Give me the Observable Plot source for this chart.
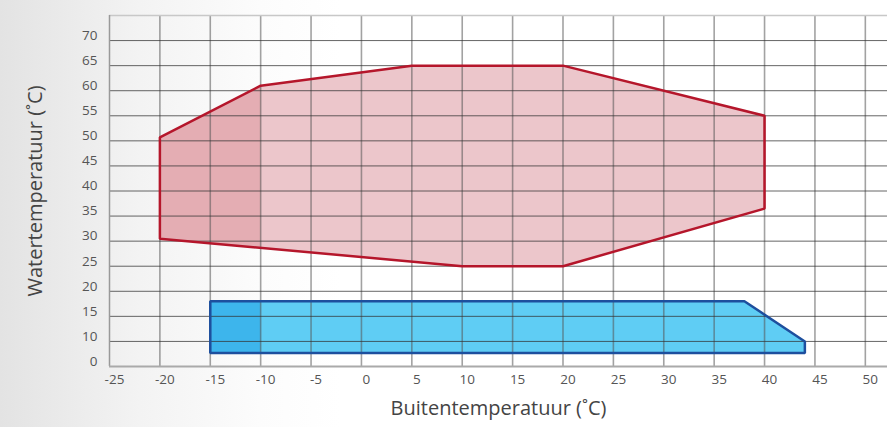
<!DOCTYPE html>
<html>
<head>
<meta charset="utf-8">
<script src="https://cdn.jsdelivr.net/npm/d3@7"></script>
<script src="https://cdn.jsdelivr.net/npm/@observablehq/plot@0.6"></script>
<style>
  html, body { margin: 0; padding: 0; }
  body {
    width: 887px; height: 427px; overflow: hidden;
    background: linear-gradient(to right, #e3e3e3 0px, #f3f3f3 140px, #fcfcfc 260px, #ffffff 340px);
  }
</style>
</head>
<body>
<div id="chart"></div>
<script>
// Tick values and labels
const xTicks = [-25, -20, -15, -10, -5, 0, 5, 10, 15, 20, 25, 30, 35, 40, 45, 50];
const xGrid = [-20, -15, -10, -5, 0, 5, 10, 15, 20, 25, 30, 35, 40, 45, 50];
const yTickPositions = [5, 10, 15, 20, 25, 30, 35, 40, 45, 50, 55, 60, 65, 70];
const yTickLabels = ["0", "10", "15", "20", "25", "30", "35", "40", "45", "50", "55", "60", "65", "70"];
const yGrid = [10, 15, 20, 25, 30, 35, 40, 45, 50, 55, 60, 65, 70];

// Heating envelope (red)
const heatX = [-20, -10, 5, 20, 40, 40, 20, 10, -20];
const heatY = [50.7, 61, 65, 65, 55, 36.5, 25, 25, 30.5];
// Heating: darker band (-20 .. -10)
const heatDarkX = [-20, -10, -10, -20];
const heatDarkY = [50.7, 61, 28.8, 30.5];

// Cooling envelope (blue)
const coolX = [-15, 38, 44, 44, -15];
const coolY = [18, 18, 10, 7.7, 7.7];
// Cooling: darker band (-15 .. -10)
const coolDarkX = [-15, -10, -10, -15];
const coolDarkY = [18, 18, 7.7, 7.7];

const toPts = (xs, ys) => xs.map((x, i) => ({x, y: ys[i]}));
const heat = toPts(heatX, heatY);
const heatDark = toPts(heatDarkX, heatDarkY);
const cool = toPts(coolX, coolY);
const coolDark = toPts(coolDarkX, coolDarkY);

const chart = Plot.plot({
  width: 887,
  height: 427,
  marginLeft: 109,
  marginRight: 0,
  marginTop: 15,
  marginBottom: 61,
  style: {background: "transparent", fontFamily: "'Open Sans', sans-serif", fontSize: "13.5px", color: "#555", overflow: "visible"},
  x: {domain: [-25, 52.2]},
  y: {domain: [5, 75]},
  marks: [
    // fills
    Plot.line(heat, {x: "x", y: "y", curve: "linear-closed", fill: "#ecc6cb", stroke: "none"}),
    Plot.line(heatDark, {x: "x", y: "y", curve: "linear-closed", fill: "#e4adb3", stroke: "none"}),
    Plot.line(cool, {x: "x", y: "y", curve: "linear-closed", fill: "#5fcdf4", stroke: "none"}),
    Plot.line(coolDark, {x: "x", y: "y", curve: "linear-closed", fill: "#3db5ec", stroke: "none"}),
    // grid
    Plot.ruleX(xGrid, {stroke: "#555", strokeOpacity: 0.55, strokeWidth: 1.6}),
    Plot.ruleY(yGrid, {stroke: "#333", strokeOpacity: 0.75, strokeWidth: 1}),
    // frame
    Plot.ruleY([75], {stroke: "#c8c8c8", strokeWidth: 1.5}),
    Plot.ruleX([-25], {stroke: "#999", strokeWidth: 1.5}),
    Plot.ruleY([5], {stroke: "#aaa", strokeWidth: 2}),
    // outlines
    Plot.line(heat, {x: "x", y: "y", curve: "linear-closed", stroke: "#b5162b", strokeWidth: 2.5, strokeLinejoin: "miter"}),
    Plot.line(cool, {x: "x", y: "y", curve: "linear-closed", stroke: "#1d4f9e", strokeWidth: 2.5, strokeLinejoin: "miter"}),
    // axes
    Plot.axisX(xTicks, {tickSize: 0, tickPadding: 8, dx: 5, tickFormat: d => String(d), label: null, fill: "#555"}),
    Plot.axisY(yTickPositions, {tickSize: 0, tickPadding: 12, dy: -5, tickFormat: (d, i) => yTickLabels[i], label: null, fill: "#555"}),
    // axis titles
    Plot.text(["Buitentemperatuur (˚C)"], {frameAnchor: "bottom", dy: 48, fontSize: 20, fill: "#444", letterSpacing: "0.5px"}),
    Plot.text(["Watertemperatuur (˚C)"], {frameAnchor: "left", textAnchor: "middle", dx: -74, rotate: -90, fontSize: 20, fill: "#444", letterSpacing: "0.5px"})
  ]
});
document.getElementById("chart").appendChild(chart);
</script>
</body>
</html>
